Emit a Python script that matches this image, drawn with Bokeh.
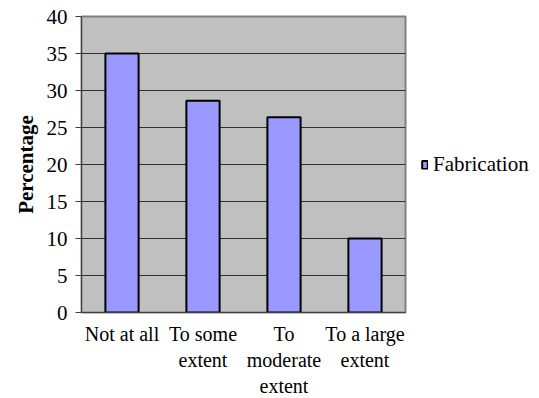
from bokeh.plotting import figure
from bokeh.models import Legend, LegendItem, FixedTicker, Range1d
from bokeh.embed import file_html
from bokeh.resources import INLINE

categories = ["Not at all", "To some\nextent", "To\nmoderate\nextent", "To a large\nextent"]
values = [35.0, 28.6, 26.4, 10.0]
series_name = "Fabrication"
y_ticks = [0, 5, 10, 15, 20, 25, 30, 35, 40]

FONT = "Liberation Serif"

p = figure(
    x_range=categories, y_range=Range1d(0, 40),
    frame_width=324, frame_height=296,
    output_backend="svg", toolbar_location=None,
    min_border_left=81, min_border_right=10,
    min_border_top=16, min_border_bottom=60,
)
p.background_fill_color = "#C0C0C0"
p.border_fill_color = "white"
p.outline_line_color = "#808080"
p.outline_line_width = 2

bars = p.vbar(x=categories, top=values, width=0.41,
              fill_color="#9999FF", line_color="black", line_width=2)

# grid
p.xgrid.visible = False
p.ygrid.ticker = FixedTicker(ticks=y_ticks)
p.ygrid.grid_line_color = "#303030"
p.ygrid.grid_line_width = 1

# y axis
p.yaxis.ticker = FixedTicker(ticks=y_ticks)
p.yaxis.axis_label = "Percentage"
p.yaxis.axis_label_text_font = FONT
p.yaxis.axis_label_text_font_style = "bold"
p.yaxis.axis_label_text_font_size = "21px"
p.yaxis.axis_label_text_color = "black"
p.yaxis.axis_label_standoff = 6
p.yaxis.major_label_text_font = FONT
p.yaxis.major_label_text_font_size = "21px"
p.yaxis.major_label_text_color = "black"
p.yaxis.major_label_standoff = 8
p.yaxis.major_tick_out = 6
p.yaxis.major_tick_in = 0
p.yaxis.minor_tick_line_color = None
p.yaxis.axis_line_color = "#404040"
p.yaxis.major_tick_line_color = "#404040"

# x axis
p.xaxis.major_label_text_font = FONT
p.xaxis.major_label_text_font_size = "20px"
p.xaxis.major_label_text_color = "black"
p.xaxis.major_label_standoff = 4
p.xaxis.major_tick_line_color = None
p.xaxis.axis_line_color = "#404040"

legend = Legend(
    items=[LegendItem(label=series_name, renderers=[bars])],
    location="left",
    glyph_width=7, glyph_height=10,
    label_text_font=FONT, label_text_font_size="21px",
    label_text_color="black",
    label_standoff=5, padding=0, margin=16,
    border_line_color=None, background_fill_alpha=0,
)
p.add_layout(legend, "right")

open("out.html", "w").write(file_html(p, INLINE))
